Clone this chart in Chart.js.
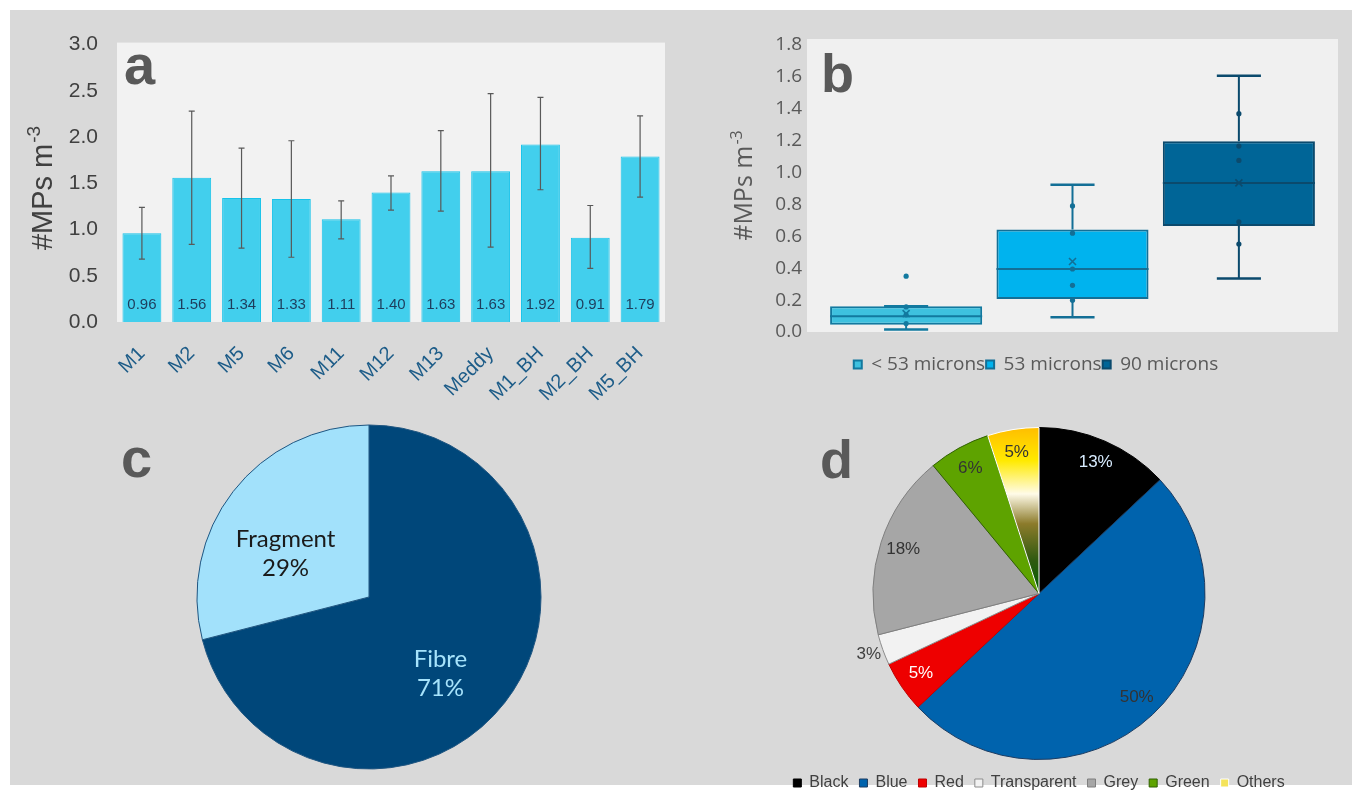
<!DOCTYPE html>
<html>
<head>
<meta charset="utf-8">
<script src="https://cdn.jsdelivr.net/npm/chart.js@4.4.1/dist/chart.umd.min.js"></script>
<style>
  html, body { margin: 0; padding: 0; background: #ffffff; overflow: hidden; }
  #panel { position: absolute; left: 10px; top: 10px; width: 1342px; height: 775px; background: #d9d9d9; }
  canvas { position: absolute; }
  .tag { position: absolute; font-family: 'Liberation Sans', Arial, sans-serif; font-weight: bold; color: #595959; line-height: 1; }
</style>
</head>
<body>
<div id="panel"></div>
<canvas id="chartA" width="670" height="402" style="left:20px;top:13px;"></canvas>
<canvas id="chartB" width="652" height="370" style="left:700px;top:20px;"></canvas>
<canvas id="chartC" width="378" height="364" style="left:180px;top:415px;"></canvas>
<canvas id="chartD" width="600" height="387" style="left:739px;top:416px;"></canvas>
<div class="tag" style="left:124px;top:37px;font-size:56px;">a</div>
<div class="tag" style="left:821px;top:46px;font-size:54px;">b</div>
<div class="tag" style="left:121px;top:430px;font-size:56px;">c</div>
<div class="tag" style="left:820px;top:432px;font-size:54px;">d</div>
<script>
const SANS = "'Liberation Sans', Arial, sans-serif";
const OPEN = "'Open Sans', 'Noto Sans', sans-serif";

// (a) mean MPs per site with error range
const sites = ['M1', 'M2', 'M5', 'M6', 'M11', 'M12', 'M13', 'Meddy', 'M1_BH', 'M2_BH', 'M5_BH'];
const meanMPs = [0.96, 1.56, 1.34, 1.33, 1.11, 1.40, 1.63, 1.63, 1.92, 0.91, 1.79];
const errLow = [0.68, 0.84, 0.80, 0.70, 0.90, 1.21, 1.20, 0.81, 1.43, 0.58, 1.35];
const errHigh = [1.24, 2.28, 1.88, 1.96, 1.31, 1.58, 2.07, 2.47, 2.43, 1.26, 2.23];

// (b) box plots by size class
const sizeClasses = ['< 53 microns', '53 microns', '90 microns'];
const boxMin = [0.015, 0.092, 0.335];
const boxQ1 = [0.046, 0.207, 0.665];
const boxMedian = [0.098, 0.395, 0.935];
const boxQ3 = [0.161, 0.643, 1.197];
const boxMax = [0.161, 0.923, 1.607];
const boxMean = [0.115, 0.442, 0.935];
const boxPoints = [
    [0.35, 0.157, 0.107, 0.053],
    [0.791, 0.62, 0.395, 0.293, 0.199],
    [1.369, 1.166, 1.076, 0.691, 0.552]
];

// (c) shape
const shapeLabels = ['Fibre', 'Fragment'];
const shapeShare = [71, 29];

// (d) colour
const colourLabels = ['Black', 'Blue', 'Red', 'Transparent', 'Grey', 'Green', 'Others'];
const colourShare = [13, 50, 5, 3, 18, 6, 5];

Chart.defaults.font.family = SANS;
Chart.defaults.animation = false;
Chart.defaults.plugins.tooltip.enabled = false;

const plotBg = {
    id: 'plotBg',
    beforeDraw(chart, args, opts) {
        const a = chart.chartArea;
        const ctx = chart.ctx;
        ctx.save();
        ctx.fillStyle = opts.color;
        ctx.fillRect(a.left, a.top - opts.extraTop, a.right - a.left, a.bottom - a.top + opts.extraTop);
        ctx.restore();
    }
};

// rotated axis title with a superscript exponent
const yTitle = {
    id: 'yTitle',
    afterDraw(chart, args, opts) {
        const ctx = chart.ctx;
        const main = `${opts.size}px ${opts.family}`;
        const sup = `${opts.supSize}px ${opts.family}`;
        ctx.save();
        ctx.translate(opts.x, opts.y);
        ctx.rotate(-Math.PI / 2);
        ctx.fillStyle = opts.color;
        ctx.textBaseline = 'alphabetic';
        ctx.textAlign = 'left';
        ctx.font = main;
        const mainW = ctx.measureText(opts.text).width;
        ctx.font = sup;
        const supW = ctx.measureText(opts.sup).width;
        const x0 = -(mainW + supW) / 2;
        ctx.font = main;
        ctx.fillText(opts.text, x0, 0);
        ctx.font = sup;
        ctx.fillText(opts.sup, x0 + mainW + 1, -opts.size * 0.42);
        ctx.restore();
    }
};

const errorBars = {
    id: 'errorBars',
    afterDatasetsDraw(chart) {
        const ctx = chart.ctx;
        const y = chart.scales.y;
        const meta = chart.getDatasetMeta(0);
        ctx.save();
        ctx.strokeStyle = '#595959';
        ctx.lineWidth = 1.2;
        meta.data.forEach((bar, i) => {
            const top = y.getPixelForValue(errHigh[i]);
            const bottom = y.getPixelForValue(errLow[i]);
            ctx.beginPath();
            ctx.moveTo(bar.x, top);
            ctx.lineTo(bar.x, bottom);
            ctx.moveTo(bar.x - 3, top);
            ctx.lineTo(bar.x + 3, top);
            ctx.moveTo(bar.x - 3, bottom);
            ctx.lineTo(bar.x + 3, bottom);
            ctx.stroke();
        });
        ctx.restore();
    }
};

const barValues = {
    id: 'barValues',
    afterDatasetsDraw(chart) {
        const ctx = chart.ctx;
        const base = chart.scales.y.getPixelForValue(0);
        const meta = chart.getDatasetMeta(0);
        ctx.save();
        ctx.font = `15px ${SANS}`;
        ctx.fillStyle = '#1e3d5c';
        ctx.textAlign = 'center';
        ctx.textBaseline = 'middle';
        meta.data.forEach((bar, i) => {
            ctx.fillText(meanMPs[i].toFixed(2), bar.x, base - 17);
        });
        ctx.restore();
    }
};

new Chart(document.getElementById('chartA'), {
    type: 'bar',
    data: {
        labels: sites,
        datasets: [{
            data: meanMPs,
            backgroundColor: '#42cfed',
            borderColor: '#17c3ea',
            borderWidth: 1,
            barPercentage: 0.78,
            categoryPercentage: 1
        }]
    },
    options: {
        responsive: false,
        layout: { padding: { top: 15, right: 25, left: 0, bottom: 0 } },
        plugins: {
            legend: { display: false },
            plotBg: { color: '#f2f2f2', extraTop: 2 },
            yTitle: { text: '#MPs m', sup: '-3', x: 32, y: 175.5, size: 29, supSize: 19, family: SANS, color: '#404040' }
        },
        scales: {
            x: {
                grid: { display: false, drawTicks: false },
                border: { display: false },
                ticks: { color: '#1d5c88', font: { size: 20 }, maxRotation: 45, minRotation: 45, padding: 20 },
                afterFit: s => { s.height = 93; }
            },
            y: {
                min: 0,
                max: 3,
                grid: { display: false, drawTicks: false },
                border: { display: false },
                ticks: { stepSize: 0.5, callback: v => v.toFixed(1), color: '#404040', font: { size: 21 }, padding: 19 },
                afterFit: s => { s.width = 97; }
            }
        }
    },
    plugins: [plotBg, yTitle, errorBars, barValues]
});

// whiskers, medians, points and means on top of the floating boxes
const boxDetails = {
    id: 'boxDetails',
    afterDatasetsDraw(chart) {
        const ctx = chart.ctx;
        const y = chart.scales.y;
        ctx.save();
        chart.data.datasets.forEach((ds, i) => {
            const box = chart.getDatasetMeta(i).data[0];
            const x = box.x;
            const half = box.width / 2;
            const cap = box.width * 0.145;
            ctx.strokeStyle = ds.borderColor;
            ctx.lineWidth = 2;
            ctx.beginPath();
            ctx.moveTo(x, y.getPixelForValue(boxQ3[i]));
            ctx.lineTo(x, y.getPixelForValue(boxMax[i]));
            ctx.moveTo(x, y.getPixelForValue(boxQ1[i]));
            ctx.lineTo(x, y.getPixelForValue(boxMin[i]));
            ctx.stroke();
            ctx.lineWidth = 2.5;
            ctx.beginPath();
            ctx.moveTo(x - cap, y.getPixelForValue(boxMax[i]));
            ctx.lineTo(x + cap, y.getPixelForValue(boxMax[i]));
            ctx.moveTo(x - cap, y.getPixelForValue(boxMin[i]));
            ctx.lineTo(x + cap, y.getPixelForValue(boxMin[i]));
            ctx.stroke();
            ctx.lineWidth = 2;
            ctx.beginPath();
            ctx.moveTo(x - half, y.getPixelForValue(boxMedian[i]));
            ctx.lineTo(x + half, y.getPixelForValue(boxMedian[i]));
            ctx.stroke();
            ctx.fillStyle = ds.borderColor;
            boxPoints[i].forEach(v => {
                ctx.beginPath();
                ctx.arc(x, y.getPixelForValue(v), 2.6, 0, Math.PI * 2);
                ctx.fill();
            });
            const my = y.getPixelForValue(boxMean[i]);
            ctx.lineWidth = 1.6;
            ctx.beginPath();
            ctx.moveTo(x - 3.5, my - 3.5);
            ctx.lineTo(x + 3.5, my + 3.5);
            ctx.moveTo(x + 3.5, my - 3.5);
            ctx.lineTo(x - 3.5, my + 3.5);
            ctx.stroke();
        });
        ctx.restore();
    }
};

const boxFills = ['#3ec1df', '#00b3ee', '#006597'];
const boxEdges = ['#12799f', '#136f96', '#0b4a6d'];

new Chart(document.getElementById('chartB'), {
    type: 'bar',
    data: {
        labels: [''],
        datasets: sizeClasses.map((name, i) => ({
            label: name,
            data: [[boxQ1[i], boxQ3[i]]],
            backgroundColor: boxFills[i],
            borderColor: boxEdges[i],
            borderWidth: 2,
            borderSkipped: false,
            barPercentage: 0.914,
            categoryPercentage: 0.94
        }))
    },
    options: {
        responsive: false,
        layout: { padding: { top: 25, right: 14, left: 34, bottom: 6 } },
        plugins: {
            legend: {
                position: 'bottom',
                labels: { color: '#595959', font: { family: OPEN, size: 19 }, boxWidth: 8, boxHeight: 8, padding: 1 }
            },
            plotBg: { color: '#f0f0f0', extraTop: 6 },
            yTitle: { text: '#MPs m', sup: '-3', x: 52, y: 166, size: 25, supSize: 16, family: OPEN, color: '#595959' }
        },
        scales: {
            x: {
                grid: { display: false, drawTicks: false },
                border: { display: false },
                ticks: { display: false },
                afterFit: s => { s.height = 22; }
            },
            y: {
                min: 0,
                max: 1.8,
                grid: { display: false, drawTicks: false },
                border: { display: false },
                ticks: { stepSize: 0.2, callback: v => v.toFixed(1), color: '#595959', font: { family: OPEN, size: 19 }, padding: 5 },
                afterFit: s => { s.width = 73; }
            }
        }
    },
    plugins: [plotBg, yTitle, boxDetails]
});

// slice labels placed along each arc's mid angle
const sliceLabels = {
    id: 'sliceLabels',
    afterDatasetsDraw(chart, args, opts) {
        const ctx = chart.ctx;
        const meta = chart.getDatasetMeta(0);
        const values = chart.data.datasets[0].data;
        ctx.save();
        ctx.font = opts.font;
        ctx.textAlign = 'center';
        ctx.textBaseline = 'middle';
        meta.data.forEach((arc, i) => {
            const mid = (arc.startAngle + arc.endAngle) / 2;
            const f = values[i] < opts.outsideBelow ? opts.outside : opts.inside;
            const px = arc.x + Math.cos(mid) * arc.outerRadius * f + opts.shift[0];
            const py = arc.y + Math.sin(mid) * arc.outerRadius * f + opts.shift[1];
            ctx.fillStyle = opts.colors[i];
            const lines = opts.withName ? [chart.data.labels[i], values[i] + '%'] : [values[i] + '%'];
            lines.forEach((t, k) => {
                ctx.fillText(t, px, py + (k - (lines.length - 1) / 2) * opts.lineHeight);
            });
        });
        ctx.restore();
    }
};

new Chart(document.getElementById('chartC'), {
    type: 'pie',
    data: {
        labels: shapeLabels,
        datasets: [{
            data: shapeShare,
            backgroundColor: ['#00477a', '#a2e1fb'],
            borderColor: '#1f5580',
            borderWidth: 1,
            radius: 172
        }]
    },
    options: {
        responsive: false,
        layout: { padding: 0 },
        plugins: {
            legend: { display: false },
            sliceLabels: {
                font: "24px Lato, 'Open Sans', sans-serif",
                colors: ['#a6e3fb', '#1a1a1a'],
                inside: 0.57, outside: 0.57, outsideBelow: 0, shift: [-6, 17],
                withName: true, lineHeight: 29
            }
        }
    },
    plugins: [sliceLabels]
});

const colourFills = ['#000000', '#0063ad', '#ee0000', '#f2f2f2', '#a6a6a6', '#5ea300'];
const colourEdges = ['#000000', '#1c3c62', '#c00000', '#8c8c8c', '#7f7f7f', '#2f6000', '#ffffff'];

function othersGradient(chart) {
    const area = chart.chartArea;
    if (!area) return '#fff200';
    const cy = (area.top + area.bottom) / 2;
    const g = chart.ctx.createLinearGradient(0, cy - 166, 0, cy);
    g.addColorStop(0, '#ffbe00');
    g.addColorStop(0.2, '#ffea00');
    g.addColorStop(0.4, '#fffbe8');
    g.addColorStop(0.58, '#8c7b2b');
    g.addColorStop(0.8, '#2f5a10');
    g.addColorStop(1, '#005f00');
    return g;
}

new Chart(document.getElementById('chartD'), {
    type: 'pie',
    data: {
        labels: colourLabels,
        datasets: [{
            data: colourShare,
            backgroundColor: c => c.dataIndex === 6 ? othersGradient(c.chart) : colourFills[c.dataIndex],
            borderColor: colourEdges,
            borderWidth: 1,
            radius: 166
        }]
    },
    options: {
        responsive: false,
        layout: { padding: { top: 7, bottom: 2 } },
        plugins: {
            legend: {
                position: 'bottom',
                labels: {
                    color: '#404040',
                    font: { size: 16 },
                    boxWidth: 8,
                    boxHeight: 8,
                    padding: 11,
                    generateLabels(chart) {
                        const items = Chart.overrides.pie.plugins.legend.labels.generateLabels(chart);
                        items[6].fillStyle = '#f4e35a';
                        items[6].strokeStyle = '#ffffff';
                        return items;
                    }
                }
            },
            sliceLabels: {
                font: `17px ${SANS}`,
                colors: ['#d8ecff', '#333333', '#ffffff', '#404040', '#333333', '#333333', '#333333'],
                inside: 0.86, outside: 1.09, outsideBelow: 4, shift: [0, 0],
                withName: false, lineHeight: 0
            }
        }
    },
    plugins: [sliceLabels]
});
</script>
</body>
</html>
